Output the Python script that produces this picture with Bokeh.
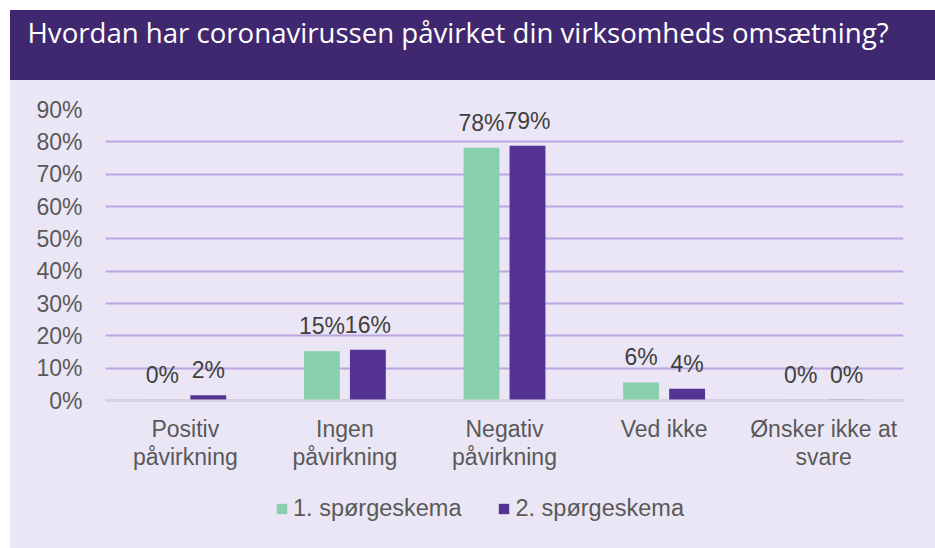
from bokeh.plotting import figure
from bokeh.models import (Range1d, FixedTicker, NumeralTickFormatter, ColumnDataSource,
                          Legend, LegendItem, Span, Title)
from bokeh.layouts import column
from bokeh.core.properties import value
from bokeh.embed import file_html
from bokeh.resources import INLINE

title_text = "Hvordan har coronavirussen påvirket din virksomheds omsætning?"
categories = ["Positiv\npåvirkning", "Ingen\npåvirkning", "Negativ\npåvirkning",
              "Ved ikke", "Ønsker ikke at\nsvare"]
series_names = ["1. spørgeskema", "2. spørgeskema"]
survey1 = [0.002, 0.152, 0.782, 0.056, 0.002]
survey2 = [0.016, 0.157, 0.788, 0.036, 0.002]
y_ticks = [0.0, 0.1, 0.2, 0.3, 0.4, 0.5, 0.6, 0.7, 0.8, 0.9]

GREEN = "#88cfb0"
PURPLE = "#553394"
BAND = "#402870"
BG = "#ebe6f5"
GRID = "#b9a5df"
TXT = "#595959"
FONT = "Liberation Sans"

W = 925
LEFT = 95
RIGHT = 32

# ---- header band ----
header = figure(width=W, height=70, x_range=Range1d(0, 1), y_range=Range1d(0, 1),
                output_backend="svg", toolbar_location=None,
                min_border_left=LEFT, min_border_right=RIGHT, min_border_top=0, min_border_bottom=0,
                styles={"background-color": BAND})
header.axis.visible = False
header.grid.visible = False
header.outline_line_color = None
header.background_fill_color = BAND
header.border_fill_color = BAND
header.add_layout(Title(text=title_text, text_color="white", text_font="Open Sans",
                        text_font_size="27.6px", text_font_style="normal", align="left",
                        offset=17 - LEFT, standoff=0), "above")

# ---- main chart ----
n = len(categories)
TOP_PX, ZERO_PX, BOTTOM_PX = 29, 320, 468   # frame top, zero line, figure bottom (px from fig top)
y_max = y_ticks[-1]
y_min = -y_max * (BOTTOM_PX - ZERO_PX) / (ZERO_PX - TOP_PX)

p = figure(width=W, height=BOTTOM_PX, x_range=Range1d(0, n), y_range=Range1d(y_min, y_max),
           output_backend="svg", toolbar_location=None,
           min_border_left=LEFT, min_border_right=RIGHT, min_border_top=TOP_PX, min_border_bottom=0,
           styles={"background-color": BG})
p.background_fill_color = BG
p.border_fill_color = BG
p.outline_line_color = None

off = 0.144
bw = 0.225
x1 = [i + 0.5 - off for i in range(n)]
x2 = [i + 0.5 + off for i in range(n)]
src1 = ColumnDataSource(dict(x=x1, top=survey1, lab=[f"{round(v*100)}%" for v in survey1]))
src2 = ColumnDataSource(dict(x=x2, top=survey2, lab=[f"{round(v*100)}%" for v in survey2]))

p.ygrid.ticker = FixedTicker(ticks=y_ticks)
p.ygrid.grid_line_color = GRID
p.ygrid.grid_line_width = 2
p.xgrid.visible = False

p.add_layout(Span(location=0, dimension="width", line_color="#d9d9d9", line_width=2))

r1 = p.vbar(x="x", top="top", width=bw, source=src1, fill_color=GREEN, line_color=None)
r2 = p.vbar(x="x", top="top", width=bw, source=src2, fill_color=PURPLE, line_color=None)

for s in (src1, src2):
    p.text(x="x", y="top", text="lab", source=s, text_align="center", text_baseline="bottom",
           y_offset=-12, text_font=value(FONT), text_font_size="23px", text_color="#404040")

# category labels (two lines)
cat_x = [i + 0.5 for i in range(n)]
line1 = [c.split("\n")[0] for c in categories]
line2 = [c.split("\n")[1] if "\n" in c else "" for c in categories]
cat_src = ColumnDataSource(dict(x=cat_x, y=[0] * n, l1=line1, l2=line2))
p.text(x="x", y="y", text="l1", source=cat_src, text_align="center", text_baseline="alphabetic",
       y_offset=28, text_font=value(FONT), text_font_size="23px", text_color=TXT)
p.text(x="x", y="y", text="l2", source=cat_src, text_align="center", text_baseline="alphabetic",
       y_offset=56, text_font=value(FONT), text_font_size="23px", text_color=TXT)

p.xaxis.visible = False
p.yaxis.ticker = FixedTicker(ticks=y_ticks)
p.yaxis.formatter = NumeralTickFormatter(format="0%")
p.yaxis.axis_line_color = None
p.yaxis.major_tick_line_color = None
p.yaxis.minor_tick_line_color = None
p.yaxis.major_label_standoff = 17
p.yaxis.major_label_text_font = FONT
p.yaxis.major_label_text_font_size = "23px"
p.yaxis.major_label_text_color = TXT

legend = Legend(items=[LegendItem(label=series_names[0], renderers=[r1]),
                       LegendItem(label=series_names[1], renderers=[r2])],
                location=(170, 26), orientation="horizontal",
                glyph_width=13, glyph_height=13, label_standoff=5, spacing=36,
                padding=0, margin=0, background_fill_alpha=0, border_line_color=None,
                label_text_font=FONT, label_text_font_size="23.5px", label_text_color=TXT)
p.add_layout(legend, "center")

layout = column(header, p, margin=(10, 0, 0, 10), spacing=0)
open("out.html", "w").write(file_html(layout, INLINE))
